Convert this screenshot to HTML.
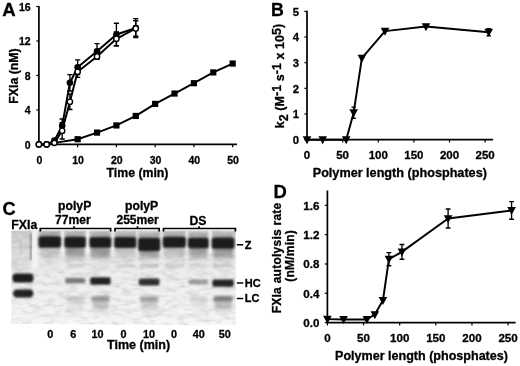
<!DOCTYPE html>
<html lang="en"><head><meta charset="utf-8"><title>Figure</title>
<style>
html,body{margin:0;padding:0;background:#fff;}
body{width:520px;height:366px;overflow:hidden;}
svg{display:block;filter:blur(0.35px);}
svg text{font-family:"Liberation Sans", Arial, Helvetica, sans-serif;font-weight:bold;fill:#000;stroke:#000;stroke-width:0.3px;stroke-linejoin:round;}
</style></head>
<body>
<svg width="520" height="366" viewBox="0 0 520 366">
<rect width="520" height="366" fill="#fff"/>
<g id="panelC">
<defs>
<filter id="b0" x="-20%" y="-50%" width="140%" height="200%"><feGaussianBlur stdDeviation="0.9 0.8"/></filter>
<filter id="b1" x="-20%" y="-50%" width="140%" height="200%"><feGaussianBlur stdDeviation="0.85 1.0"/></filter>
<filter id="b2" x="-20%" y="-60%" width="140%" height="220%"><feGaussianBlur stdDeviation="1.5 1.6"/></filter>
<filter id="b3" x="-20%" y="-60%" width="140%" height="220%"><feGaussianBlur stdDeviation="1.8 3.0"/></filter>
<filter id="b4" x="-30%" y="-10%" width="160%" height="120%"><feGaussianBlur stdDeviation="1.3 2.5"/></filter>
<filter id="b5" x="-5%" y="-5%" width="110%" height="110%"><feGaussianBlur stdDeviation="0.7"/></filter>
<linearGradient id="gelbg" x1="0" y1="0" x2="0" y2="1">
<stop offset="0" stop-color="#d8d8d8"/><stop offset="0.10" stop-color="#e0e0e0"/><stop offset="0.3" stop-color="#eaeaea"/><stop offset="0.6" stop-color="#efefef"/><stop offset="0.9" stop-color="#f3f3f3"/><stop offset="1" stop-color="#f8f8f8"/>
</linearGradient>
<filter id="noise" x="0" y="0" width="100%" height="100%"><feTurbulence type="fractalNoise" baseFrequency="0.09 0.22" numOctaves="3" seed="7" result="t"/><feColorMatrix in="t" type="matrix" values="0 0 0 0 0.3  0 0 0 0 0.3  0 0 0 0 0.3  1.3 0 0 0 -0.55"/></filter>
<clipPath id="gelclip"><path d="M11.3 230.5H235.8V325.6L11.3 323.8Z"/></clipPath>
</defs>
<path d="M11.3 230.5H235.8V325.6L11.3 323.8Z" fill="url(#gelbg)" filter="url(#b5)"/>
<g clip-path="url(#gelclip)">
<rect x="11.3" y="230.5" width="224.5" height="95.10000000000002" filter="url(#noise)" opacity="0.5"/>
<rect x="32.4" y="228" width="5.2" height="42" fill="#f6f6f6" opacity="0.85" filter="url(#b4)"/>
<rect x="30.2" y="233" width="1.5" height="27" fill="#555" opacity="0.8" filter="url(#b0)"/>
<rect x="11.3" y="230" width="19" height="40" fill="#888" opacity="0.12" filter="url(#b4)"/>
<rect x="20.2" y="240" width="1.3" height="14" fill="#888" opacity="0.35" filter="url(#b0)"/>
<rect x="61.40" y="228" width="2.60" height="25" fill="#fafafa" opacity="0.95" filter="url(#b0)"/>
<rect x="86.20" y="228" width="3.00" height="25" fill="#fafafa" opacity="0.95" filter="url(#b0)"/>
<rect x="111.60" y="228" width="2.20" height="25" fill="#fafafa" opacity="0.95" filter="url(#b0)"/>
<rect x="136.60" y="228" width="1.20" height="25" fill="#fafafa" opacity="0.95" filter="url(#b0)"/>
<rect x="160.50" y="228" width="1.90" height="25" fill="#fafafa" opacity="0.95" filter="url(#b0)"/>
<rect x="186.20" y="228" width="1.40" height="25" fill="#fafafa" opacity="0.95" filter="url(#b0)"/>
<rect x="209.00" y="228" width="2.40" height="25" fill="#fafafa" opacity="0.95" filter="url(#b0)"/>
<rect x="39.90" y="243" width="19.80" height="15" fill="#505050" opacity="0.2" filter="url(#b3)"/>
<rect x="65.70" y="243" width="18.80" height="15" fill="#505050" opacity="0.5" filter="url(#b3)"/>
<rect x="90.90" y="243" width="19.00" height="15" fill="#505050" opacity="0.5" filter="url(#b3)"/>
<rect x="115.50" y="243" width="19.40" height="15" fill="#505050" opacity="0.2" filter="url(#b3)"/>
<rect x="139.50" y="243" width="19.30" height="15" fill="#505050" opacity="0.5" filter="url(#b3)"/>
<rect x="164.10" y="243" width="20.40" height="15" fill="#505050" opacity="0.24" filter="url(#b3)"/>
<rect x="189.30" y="243" width="18.00" height="15" fill="#505050" opacity="0.46" filter="url(#b3)"/>
<rect x="213.10" y="243" width="20.00" height="15" fill="#505050" opacity="0.5" filter="url(#b3)"/>
<rect x="39.40" y="231.30" width="20.80" height="8" fill="#444" opacity="0.30" filter="url(#b2)"/>
<rect x="38.50" y="236.30" width="22.60" height="11.40" rx="2.8" fill="#1d1d1d" filter="url(#b1)"/>
<rect x="65.20" y="231.70" width="19.80" height="8" fill="#444" opacity="0.30" filter="url(#b2)"/>
<rect x="64.30" y="236.70" width="21.60" height="11.10" rx="2.8" fill="#1d1d1d" filter="url(#b1)"/>
<rect x="90.40" y="231.90" width="20.00" height="8" fill="#444" opacity="0.30" filter="url(#b2)"/>
<rect x="89.50" y="236.90" width="21.80" height="10.90" rx="2.8" fill="#1d1d1d" filter="url(#b1)"/>
<rect x="115.00" y="232.10" width="20.40" height="8" fill="#444" opacity="0.30" filter="url(#b2)"/>
<rect x="114.10" y="237.10" width="22.20" height="11.00" rx="2.8" fill="#1d1d1d" filter="url(#b1)"/>
<rect x="139.00" y="232.70" width="20.30" height="8" fill="#444" opacity="0.30" filter="url(#b2)"/>
<rect x="138.10" y="237.70" width="22.10" height="13.40" rx="2.8" fill="#1d1d1d" filter="url(#b1)"/>
<rect x="163.60" y="231.70" width="21.40" height="8" fill="#444" opacity="0.30" filter="url(#b2)"/>
<rect x="162.70" y="236.70" width="23.20" height="11.00" rx="2.8" fill="#1d1d1d" filter="url(#b1)"/>
<rect x="188.80" y="232.70" width="19.00" height="8" fill="#444" opacity="0.30" filter="url(#b2)"/>
<rect x="187.90" y="237.70" width="20.80" height="10.60" rx="2.8" fill="#1d1d1d" filter="url(#b1)"/>
<rect x="212.60" y="232.50" width="21.00" height="8" fill="#444" opacity="0.30" filter="url(#b2)"/>
<rect x="211.70" y="237.50" width="22.80" height="11.20" rx="2.8" fill="#1d1d1d" filter="url(#b1)"/>
<rect x="40.40" y="264.2" width="18.80" height="3.2" fill="#555" opacity="0.06" filter="url(#b0)"/>
<rect x="66.20" y="264.2" width="17.80" height="3.2" fill="#555" opacity="0.1" filter="url(#b0)"/>
<rect x="91.40" y="264.2" width="18.00" height="3.2" fill="#555" opacity="0.09" filter="url(#b0)"/>
<rect x="116.00" y="264.2" width="18.40" height="3.2" fill="#555" opacity="0.16" filter="url(#b0)"/>
<rect x="140.00" y="264.2" width="18.30" height="3.2" fill="#555" opacity="0.26" filter="url(#b0)"/>
<rect x="164.60" y="264.2" width="19.40" height="3.2" fill="#555" opacity="0.22" filter="url(#b0)"/>
<rect x="189.80" y="264.2" width="17.00" height="3.2" fill="#555" opacity="0.16" filter="url(#b0)"/>
<rect x="213.60" y="264.2" width="19.00" height="3.2" fill="#555" opacity="0.24" filter="url(#b0)"/>
<rect x="12.4" y="273.4" width="21.0" height="9.2" rx="3.6" fill="#1a1a1a" filter="url(#b1)"/>
<rect x="13.2" y="289.4" width="20.0" height="8.0" rx="3.6" fill="#202020" filter="url(#b1)"/>
<rect x="65.00" y="278.00" width="20.20" height="5.60" rx="2" fill="#1e1e1e" opacity="0.52" filter="url(#b1)"/>
<rect x="90.20" y="277.20" width="20.40" height="7.60" rx="2" fill="#1e1e1e" opacity="0.96" filter="url(#b1)"/>
<rect x="138.80" y="278.40" width="20.70" height="7.00" rx="2" fill="#1e1e1e" opacity="0.9" filter="url(#b1)"/>
<rect x="188.60" y="279.20" width="19.40" height="5.20" rx="2" fill="#1e1e1e" opacity="0.36" filter="url(#b1)"/>
<rect x="212.40" y="279.60" width="21.40" height="7.20" rx="2" fill="#1e1e1e" opacity="0.97" filter="url(#b1)"/>
<rect x="66.20" y="296.2" width="17.80" height="5.4" fill="#3a3a3a" opacity="0.18" filter="url(#b2)"/>
<rect x="67.20" y="301" width="15.80" height="9" fill="#4a4a4a" opacity="0.1" filter="url(#b3)"/>
<rect x="91.40" y="296.2" width="18.00" height="5.4" fill="#3a3a3a" opacity="0.46" filter="url(#b2)"/>
<rect x="92.40" y="301" width="16.00" height="9" fill="#4a4a4a" opacity="0.3" filter="url(#b3)"/>
<rect x="140.00" y="296.2" width="18.30" height="5.4" fill="#3a3a3a" opacity="0.4" filter="url(#b2)"/>
<rect x="141.00" y="301" width="16.30" height="9" fill="#4a4a4a" opacity="0.22" filter="url(#b3)"/>
<rect x="189.80" y="296.2" width="17.00" height="5.4" fill="#3a3a3a" opacity="0.15" filter="url(#b2)"/>
<rect x="190.80" y="301" width="15.00" height="9" fill="#4a4a4a" opacity="0.06" filter="url(#b3)"/>
<rect x="213.60" y="296.2" width="19.00" height="5.4" fill="#3a3a3a" opacity="0.62" filter="url(#b2)"/>
<rect x="214.60" y="301" width="17.00" height="9" fill="#4a4a4a" opacity="0.32" filter="url(#b3)"/>
</g>
<path d="M40.3 231.6V228.5H110.6V231.6M74.0 228.5V226.2" stroke="#000" stroke-width="1.7" fill="none"/>
<path d="M115.0 231.6V228.5H159.2V231.6M137.5 228.5V226.2" stroke="#000" stroke-width="1.7" fill="none"/>
<path d="M163.5 231.6V228.5H235.4V231.6M199.0 228.5V226.2" stroke="#000" stroke-width="1.7" fill="none"/>
<text x="2.40" y="215.20" font-size="18.2" text-anchor="start" >C</text>
<text x="24.30" y="229.30" font-size="12.3" text-anchor="middle" >FXIa</text>
<text x="74.70" y="210.20" font-size="12.2" text-anchor="middle" >polyP</text>
<text x="72.90" y="224.20" font-size="12.1" text-anchor="middle" >77mer</text>
<text x="141.60" y="210.20" font-size="12.2" text-anchor="middle" >polyP</text>
<text x="137.60" y="224.20" font-size="12.1" text-anchor="middle" >255mer</text>
<text x="198.00" y="225.20" font-size="12.2" text-anchor="middle" >DS</text>
<path d="M236.8 244.79999999999998H243.2" stroke="#000" stroke-width="1.5"/>
<text x="244.80" y="248.70" font-size="11" text-anchor="start" >Z</text>
<path d="M236.8 283.0H243.2" stroke="#000" stroke-width="1.5"/>
<text x="244.80" y="286.90" font-size="11" text-anchor="start" >HC</text>
<path d="M236.8 298.5H243.2" stroke="#000" stroke-width="1.5"/>
<text x="244.80" y="302.40" font-size="11" text-anchor="start" >LC</text>
<text x="50.30" y="337.50" font-size="10.8" text-anchor="middle" >0</text>
<text x="73.20" y="337.50" font-size="10.8" text-anchor="middle" >6</text>
<text x="97.60" y="337.50" font-size="10.8" text-anchor="middle" >10</text>
<text x="123.40" y="337.50" font-size="10.8" text-anchor="middle" >0</text>
<text x="149.00" y="337.50" font-size="10.8" text-anchor="middle" >10</text>
<text x="174.00" y="337.50" font-size="10.8" text-anchor="middle" >0</text>
<text x="198.80" y="337.50" font-size="10.8" text-anchor="middle" >40</text>
<text x="224.80" y="337.50" font-size="10.8" text-anchor="middle" >50</text>
<text x="138.60" y="349.00" font-size="12.5" text-anchor="middle" >Time (min)</text>
</g>
<g id="panelA">
<path d="M38.90 5.88V144.40H236.95" stroke="#000" stroke-width="1.7" fill="none" stroke-linejoin="miter"/>
<path d="M36.30 144.40H38.90" stroke="#000" stroke-width="1.2"/>
<text x="30.70" y="148.80" font-size="10.5" text-anchor="end" >0</text>
<path d="M36.30 109.92H38.90" stroke="#000" stroke-width="1.2"/>
<text x="30.70" y="114.32" font-size="10.5" text-anchor="end" >4</text>
<path d="M36.30 75.44H38.90" stroke="#000" stroke-width="1.2"/>
<text x="30.70" y="79.84" font-size="10.5" text-anchor="end" >8</text>
<path d="M36.30 40.96H38.90" stroke="#000" stroke-width="1.2"/>
<text x="30.70" y="45.36" font-size="10.5" text-anchor="end" >12</text>
<path d="M36.30 6.48H38.90" stroke="#000" stroke-width="1.2"/>
<text x="30.70" y="10.88" font-size="10.5" text-anchor="end" >16</text>
<path d="M38.90 144.40V147.20" stroke="#000" stroke-width="1.2"/>
<text x="39.30" y="163.70" font-size="10.5" text-anchor="middle" >0</text>
<path d="M77.65 144.40V147.20" stroke="#000" stroke-width="1.2"/>
<text x="78.05" y="163.70" font-size="10.5" text-anchor="middle" >10</text>
<path d="M116.40 144.40V147.20" stroke="#000" stroke-width="1.2"/>
<text x="116.80" y="163.70" font-size="10.5" text-anchor="middle" >20</text>
<path d="M155.15 144.40V147.20" stroke="#000" stroke-width="1.2"/>
<text x="155.55" y="163.70" font-size="10.5" text-anchor="middle" >30</text>
<path d="M193.90 144.40V147.20" stroke="#000" stroke-width="1.2"/>
<text x="194.30" y="163.70" font-size="10.5" text-anchor="middle" >40</text>
<path d="M232.65 144.40V147.20" stroke="#000" stroke-width="1.2"/>
<text x="233.05" y="163.70" font-size="10.5" text-anchor="middle" >50</text>
<text x="137.50" y="177.20" font-size="12.3" text-anchor="middle" >Time (min)</text>
<text transform="translate(17.5 76) rotate(-90)" font-size="12.3" text-anchor="middle">FXIa (nM)</text>
<text x="2.20" y="16.20" font-size="18.6" text-anchor="start" >A</text>
<path d="M54.40 142.85L77.65 139.23L97.03 132.59L116.40 125.44L135.78 115.95L155.15 103.89L174.53 93.54L193.90 83.20L213.28 72.42L232.65 63.54" stroke="#000" stroke-width="1.95" fill="none" stroke-linejoin="round"/>
<rect x="74.55" y="136.13" width="6.2" height="6.2" fill="#000"/>
<rect x="93.93" y="129.49" width="6.2" height="6.2" fill="#000"/>
<rect x="113.30" y="122.34" width="6.2" height="6.2" fill="#000"/>
<rect x="132.68" y="112.85" width="6.2" height="6.2" fill="#000"/>
<rect x="152.05" y="100.79" width="6.2" height="6.2" fill="#000"/>
<rect x="171.43" y="90.44" width="6.2" height="6.2" fill="#000"/>
<rect x="190.80" y="80.10" width="6.2" height="6.2" fill="#000"/>
<rect x="210.18" y="69.32" width="6.2" height="6.2" fill="#000"/>
<rect x="229.55" y="60.44" width="6.2" height="6.2" fill="#000"/>
<path d="M62.15 118.97V132.76M59.55 118.97H64.75M59.55 132.76H64.75" stroke="#000" stroke-width="1.35" fill="none"/>
<path d="M69.90 74.58V90.96M67.30 74.58H72.50M67.30 90.96H72.50" stroke="#000" stroke-width="1.35" fill="none"/>
<path d="M77.65 59.92V74.58M75.05 59.92H80.25M75.05 74.58H80.25" stroke="#000" stroke-width="1.35" fill="none"/>
<path d="M97.03 43.55V59.06M94.43 43.55H99.62M94.43 59.06H99.62" stroke="#000" stroke-width="1.35" fill="none"/>
<path d="M116.40 23.29V45.70M113.80 23.29H119.00M113.80 45.70H119.00" stroke="#000" stroke-width="1.35" fill="none"/>
<path d="M135.78 18.55V37.51M133.18 18.55H138.38M133.18 37.51H138.38" stroke="#000" stroke-width="1.35" fill="none"/>
<path d="M62.15 122.59V138.97M59.55 122.59H64.75M59.55 138.97H64.75" stroke="#000" stroke-width="1.35" fill="none"/>
<path d="M69.90 93.97V109.49M67.30 93.97H72.50M67.30 109.49H72.50" stroke="#000" stroke-width="1.35" fill="none"/>
<path d="M77.65 66.22V77.42M75.05 66.22H80.25M75.05 77.42H80.25" stroke="#000" stroke-width="1.35" fill="none"/>
<path d="M97.03 53.89V59.06M94.43 53.89H99.62M94.43 59.06H99.62" stroke="#000" stroke-width="1.35" fill="none"/>
<path d="M116.40 31.91V45.70M113.80 31.91H119.00M113.80 45.70H119.00" stroke="#000" stroke-width="1.35" fill="none"/>
<path d="M135.78 20.70V36.22M133.18 20.70H138.38M133.18 36.22H138.38" stroke="#000" stroke-width="1.35" fill="none"/>
<path d="M38.90 144.40L46.65 144.40L54.40 140.52L62.15 125.87L69.90 82.77L77.65 67.25L97.03 51.30L116.40 34.50L135.78 28.03" stroke="#000" stroke-width="1.95" fill="none" stroke-linejoin="round"/>
<path d="M38.90 144.40L46.65 144.40L54.40 142.85L62.15 130.78L69.90 101.73L77.65 71.82L97.03 56.48L116.40 38.81L135.78 28.46" stroke="#000" stroke-width="1.95" fill="none" stroke-linejoin="round"/>
<circle cx="38.90" cy="144.40" r="3.3" fill="#000"/>
<circle cx="46.65" cy="144.40" r="3.3" fill="#000"/>
<circle cx="54.40" cy="140.52" r="3.3" fill="#000"/>
<circle cx="62.15" cy="125.87" r="3.3" fill="#000"/>
<circle cx="69.90" cy="82.77" r="3.3" fill="#000"/>
<circle cx="77.65" cy="67.25" r="3.3" fill="#000"/>
<circle cx="97.03" cy="51.30" r="3.3" fill="#000"/>
<circle cx="116.40" cy="34.50" r="3.3" fill="#000"/>
<circle cx="135.78" cy="28.03" r="3.3" fill="#000"/>
<circle cx="38.90" cy="144.40" r="2.65" fill="#fff" stroke="#000" stroke-width="1.4"/>
<circle cx="46.65" cy="144.40" r="2.65" fill="#fff" stroke="#000" stroke-width="1.4"/>
<circle cx="54.40" cy="142.85" r="2.65" fill="#fff" stroke="#000" stroke-width="1.4"/>
<circle cx="62.15" cy="130.78" r="2.65" fill="#fff" stroke="#000" stroke-width="1.4"/>
<circle cx="69.90" cy="101.73" r="2.65" fill="#fff" stroke="#000" stroke-width="1.4"/>
<circle cx="77.65" cy="71.82" r="2.65" fill="#fff" stroke="#000" stroke-width="1.4"/>
<circle cx="97.03" cy="56.48" r="2.65" fill="#fff" stroke="#000" stroke-width="1.4"/>
<circle cx="116.40" cy="38.81" r="2.65" fill="#fff" stroke="#000" stroke-width="1.4"/>
<circle cx="135.78" cy="28.46" r="2.65" fill="#fff" stroke="#000" stroke-width="1.4"/>
</g>
<g id="panelB">
<path d="M307.00 10.80V139.65H493.12" stroke="#000" stroke-width="1.7" fill="none"/>
<path d="M304.40 139.65H307.00" stroke="#000" stroke-width="1.2"/>
<text x="299.10" y="143.85" font-size="11.3" text-anchor="end" >0</text>
<path d="M304.40 114.00H307.00" stroke="#000" stroke-width="1.2"/>
<text x="299.10" y="118.20" font-size="11.3" text-anchor="end" >1</text>
<path d="M304.40 88.35H307.00" stroke="#000" stroke-width="1.2"/>
<text x="299.10" y="92.55" font-size="11.3" text-anchor="end" >2</text>
<path d="M304.40 62.70H307.00" stroke="#000" stroke-width="1.2"/>
<text x="299.10" y="66.90" font-size="11.3" text-anchor="end" >3</text>
<path d="M304.40 37.05H307.00" stroke="#000" stroke-width="1.2"/>
<text x="299.10" y="41.25" font-size="11.3" text-anchor="end" >4</text>
<path d="M304.40 11.40H307.00" stroke="#000" stroke-width="1.2"/>
<text x="299.10" y="15.60" font-size="11.3" text-anchor="end" >5</text>
<path d="M307.00 139.65V142.45" stroke="#000" stroke-width="1.2"/>
<text x="307.00" y="159.40" font-size="11.5" text-anchor="middle" >0</text>
<path d="M342.62 139.65V142.45" stroke="#000" stroke-width="1.2"/>
<text x="342.62" y="159.40" font-size="11.5" text-anchor="middle" >50</text>
<path d="M378.25 139.65V142.45" stroke="#000" stroke-width="1.2"/>
<text x="378.25" y="159.40" font-size="11.5" text-anchor="middle" >100</text>
<path d="M413.88 139.65V142.45" stroke="#000" stroke-width="1.2"/>
<text x="413.88" y="159.40" font-size="11.5" text-anchor="middle" >150</text>
<path d="M449.50 139.65V142.45" stroke="#000" stroke-width="1.2"/>
<text x="449.50" y="159.40" font-size="11.5" text-anchor="middle" >200</text>
<path d="M485.12 139.65V142.45" stroke="#000" stroke-width="1.2"/>
<text x="485.12" y="159.40" font-size="11.5" text-anchor="middle" >250</text>
<text x="399.80" y="177.00" font-size="12.65" text-anchor="middle" >Polymer length (phosphates)</text>
<text transform="translate(283.9 128.3) rotate(-90)" font-size="12.5" text-anchor="start" textLength="104.6" lengthAdjust="spacing">k<tspan dy="4.2">2</tspan><tspan dy="-4.2"> (M</tspan><tspan dy="-3.2">-1</tspan><tspan dy="3.2"> s</tspan><tspan dy="-3.2">-1</tspan><tspan dy="3.2"> x 10</tspan><tspan dy="-3.2">5</tspan><tspan dy="1.0">)</tspan></text>
<text x="271.00" y="15.80" font-size="17.8" text-anchor="start" >B</text>
<path d="M353.67 107.07V118.36M351.47 107.07H355.87M351.47 118.36H355.87" stroke="#000" stroke-width="1.35" fill="none"/>
<path d="M488.69 28.59V35.77M486.49 28.59H490.89M486.49 35.77H490.89" stroke="#000" stroke-width="1.35" fill="none"/>
<path d="M307.00 139.65L322.68 139.65L346.19 139.65L353.67 112.72L361.86 58.08L385.02 31.15L425.99 26.53L488.69 32.18" stroke="#000" stroke-width="1.95" fill="none" stroke-linejoin="round"/>
<path d="M302.70 136.29H311.30L307.00 144.29Z" fill="#000"/>
<path d="M318.38 136.29H326.98L322.68 144.29Z" fill="#000"/>
<path d="M341.89 136.29H350.49L346.19 144.29Z" fill="#000"/>
<path d="M349.37 109.36H357.97L353.67 117.36Z" fill="#000"/>
<path d="M357.56 54.72H366.16L361.86 62.72Z" fill="#000"/>
<path d="M380.72 27.79H389.32L385.02 35.79Z" fill="#000"/>
<path d="M421.69 23.17H430.29L425.99 31.17Z" fill="#000"/>
<path d="M484.39 28.82H492.99L488.69 36.82Z" fill="#000"/>
</g>
<g id="panelD">
<path d="M327.40 190.5V322.60H515.60" stroke="#000" stroke-width="1.7" fill="none"/>
<path d="M324.80 322.60H327.40" stroke="#000" stroke-width="1.2"/>
<text x="319.40" y="326.90" font-size="11.6" text-anchor="end" >0.0</text>
<path d="M324.80 293.28H327.40" stroke="#000" stroke-width="1.2"/>
<text x="319.40" y="297.58" font-size="11.6" text-anchor="end" >0.4</text>
<path d="M324.80 263.96H327.40" stroke="#000" stroke-width="1.2"/>
<text x="319.40" y="268.26" font-size="11.6" text-anchor="end" >0.8</text>
<path d="M324.80 234.64H327.40" stroke="#000" stroke-width="1.2"/>
<text x="319.40" y="238.94" font-size="11.6" text-anchor="end" >1.2</text>
<path d="M324.80 205.32H327.40" stroke="#000" stroke-width="1.2"/>
<text x="319.40" y="209.62" font-size="11.6" text-anchor="end" >1.6</text>
<path d="M327.40 322.60V325.40" stroke="#000" stroke-width="1.2"/>
<text x="327.40" y="342.00" font-size="11.6" text-anchor="middle" >0</text>
<path d="M363.54 322.60V325.40" stroke="#000" stroke-width="1.2"/>
<text x="363.54" y="342.00" font-size="11.6" text-anchor="middle" >50</text>
<path d="M399.68 322.60V325.40" stroke="#000" stroke-width="1.2"/>
<text x="399.68" y="342.00" font-size="11.6" text-anchor="middle" >100</text>
<path d="M435.82 322.60V325.40" stroke="#000" stroke-width="1.2"/>
<text x="435.82" y="342.00" font-size="11.6" text-anchor="middle" >150</text>
<path d="M471.96 322.60V325.40" stroke="#000" stroke-width="1.2"/>
<text x="471.96" y="342.00" font-size="11.6" text-anchor="middle" >200</text>
<path d="M508.10 322.60V325.40" stroke="#000" stroke-width="1.2"/>
<text x="508.10" y="342.00" font-size="11.6" text-anchor="middle" >250</text>
<text x="421.50" y="360.00" font-size="12.55" text-anchor="middle" >Polymer length (phosphates)</text>
<text transform="translate(281.2 313.3) rotate(-90)" font-size="12" text-anchor="start" textLength="110.6" lengthAdjust="spacing">FXIa autolysis rate</text>
<text transform="translate(293.8 281.8) rotate(-90)" font-size="12" text-anchor="start" textLength="51.6" lengthAdjust="spacing">(nM/min)</text>
<text x="273.60" y="198.00" font-size="18.4" text-anchor="start" >D</text>
<path d="M388.91 252.60V265.79M386.51 252.60H391.31M386.51 265.79H391.31" stroke="#000" stroke-width="1.35" fill="none"/>
<path d="M401.92 244.54V259.20M399.52 244.54H404.32M399.52 259.20H404.32" stroke="#000" stroke-width="1.35" fill="none"/>
<path d="M448.11 208.99V228.04M445.71 208.99H450.51M445.71 228.04H450.51" stroke="#000" stroke-width="1.35" fill="none"/>
<path d="M511.57 201.66V219.25M509.17 201.66H513.97M509.17 219.25H513.97" stroke="#000" stroke-width="1.35" fill="none"/>
<path d="M327.40 319.15L343.59 319.45L366.86 319.45L374.82 314.54L382.98 300.24L388.91 259.20L401.92 251.87L448.11 218.51L511.57 210.45" stroke="#000" stroke-width="1.95" fill="none" stroke-linejoin="round"/>
<path d="M323.10 315.79H331.70L327.40 323.79Z" fill="#000"/>
<path d="M339.29 316.09H347.89L343.59 324.09Z" fill="#000"/>
<path d="M362.56 316.09H371.16L366.86 324.09Z" fill="#000"/>
<path d="M370.52 311.18H379.12L374.82 319.18Z" fill="#000"/>
<path d="M378.68 296.88H387.28L382.98 304.88Z" fill="#000"/>
<path d="M384.61 255.84H393.21L388.91 263.84Z" fill="#000"/>
<path d="M397.62 248.51H406.22L401.92 256.51Z" fill="#000"/>
<path d="M443.81 215.15H452.41L448.11 223.15Z" fill="#000"/>
<path d="M507.27 207.09H515.87L511.57 215.09Z" fill="#000"/>
</g>
</svg>
</body></html>
